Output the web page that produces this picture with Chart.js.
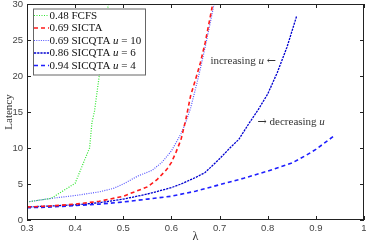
<!DOCTYPE html>
<html>
<head>
<meta charset="utf-8">
<script src="https://cdn.jsdelivr.net/npm/chart.js@4/dist/chart.umd.min.js"></script>
<style>
  html, body { margin: 0; padding: 0; background: #fff; }
  #wrap { width: 366px; height: 244px; }
</style>
</head>
<body>
<div id="wrap"><canvas id="latencyChart"></canvas></div>
<script>
// axis ticks
const xTicks = [0.3, 0.4, 0.5, 0.6, 0.7, 0.8, 0.9, 1];
const yTicks = [0, 5, 10, 15, 20, 25, 30];

const seriesLabels = ['0.48 FCFS', '0.69 SICTA', '0.69 SICQTA u = 10', '0.86 SICQTA u = 6', '0.94 SICQTA u = 4'];

// FCFS
const fcfsLambda = [0.30, 0.35, 0.40, 0.42, 0.43, 0.435, 0.44, 0.45, 0.46, 0.47, 0.48];
const fcfsLatency = [2.5, 3.0, 5.1, 8.4, 10.0, 13.6, 15.0, 20.0, 25.3, 30.6, 36.0];

// SICTA
const sictaLambda = [0.30, 0.35, 0.40, 0.45, 0.50, 0.55, 0.57, 0.59, 0.60, 0.61, 0.62, 0.63, 0.64, 0.65, 0.66, 0.67, 0.68, 0.69];
const sictaLatency = [1.8, 1.95, 2.2, 2.6, 3.3, 4.6, 5.6, 7.0, 8.0, 9.5, 11.2, 14.0, 17.3, 19.5, 21.8, 24.6, 28.0, 31.5];

// SICQTA u = 10
const u10Lambda = [0.30, 0.35, 0.40, 0.45, 0.48, 0.50, 0.53, 0.56, 0.58, 0.60, 0.62, 0.63, 0.64, 0.65, 0.66, 0.67, 0.68, 0.69];
const u10Latency = [2.5, 3.0, 3.4, 3.9, 4.4, 5.0, 6.1, 6.9, 8.0, 9.6, 12.0, 13.6, 15.6, 18.2, 21.0, 24.0, 27.2, 30.5];

// SICQTA u = 6
const u6Lambda = [0.30, 0.35, 0.40, 0.45, 0.50, 0.55, 0.60, 0.62, 0.65, 0.67, 0.70, 0.72, 0.74, 0.76, 0.78, 0.80, 0.82, 0.84, 0.86];
const u6Latency = [1.8, 1.95, 2.1, 2.4, 2.9, 3.6, 4.5, 5.0, 5.9, 6.6, 8.5, 9.9, 11.2, 13.3, 15.3, 17.5, 20.5, 24.0, 28.3];

// SICQTA u = 4
const u4Lambda = [0.30, 0.35, 0.40, 0.45, 0.50, 0.55, 0.60, 0.65, 0.70, 0.75, 0.80, 0.85, 0.88, 0.90, 0.94];
const u4Latency = [1.7, 1.8, 2.0, 2.2, 2.5, 2.9, 3.3, 4.0, 4.9, 5.8, 6.8, 7.9, 9.0, 9.8, 11.8];

const pts = (xs, ys) => xs.map((x, i) => ({ x: x, y: ys[i] }));

const serif = '"Liberation Serif", "DejaVu Serif", serif';

// write text where a lone "u" is italic and arrows come from DejaVu
function mathText(ctx, text, x, y, size) {
  text.split(/(\bu\b|[\u2190\u2192])/).forEach(part => {
    if (!part) return;
    if (part === 'u') ctx.font = 'italic ' + size + 'px ' + serif;
    else if (part === '\u2190' || part === '\u2192') ctx.font = size + 'px "DejaVu Serif", serif';
    else ctx.font = size + 'px ' + serif;
    ctx.fillText(part, x, y);
    x += ctx.measureText(part).width;
  });
}

const framePlugin = {
  id: 'frame',
  afterDatasetsDraw(chart) {
    const { ctx, chartArea: a, scales } = chart;
    ctx.save();
    // box and inward ticks
    ctx.strokeStyle = '#222';
    ctx.lineWidth = 1;
    ctx.strokeRect(a.left + 0.5, a.top + 0.5, a.right - a.left - 1, a.bottom - a.top - 1);
    ctx.beginPath();
    xTicks.forEach(v => {
      const px = Math.round(scales.x.getPixelForValue(v)) + 0.5;
      ctx.moveTo(px, a.bottom); ctx.lineTo(px, a.bottom - 4);
      ctx.moveTo(px, a.top); ctx.lineTo(px, a.top + 4);
    });
    yTicks.forEach(v => {
      const py = Math.round(scales.y.getPixelForValue(v)) + 0.5;
      ctx.moveTo(a.left, py); ctx.lineTo(a.left + 4, py);
      ctx.moveTo(a.right, py); ctx.lineTo(a.right - 4, py);
    });
    ctx.stroke();

    // legend
    const bx = a.left + 6, by = a.top + 4.5, bw = 112, bh = 66;
    ctx.fillStyle = '#fff';
    ctx.fillRect(bx, by, bw, bh);
    ctx.strokeStyle = '#666';
    ctx.strokeRect(bx + 0.5, by + 0.5, bw, bh);
    chart.data.datasets.forEach((ds, i) => {
      const ry = by + 7 + i * 12.5;
      ctx.strokeStyle = ds.borderColor;
      ctx.lineWidth = ds.borderWidth;
      ctx.setLineDash(ds.borderDash);
      ctx.beginPath();
      ctx.moveTo(bx + 1, ry); ctx.lineTo(bx + 16, ry);
      ctx.stroke();
      ctx.setLineDash([]);
      ctx.fillStyle = '#111';
      ctx.textBaseline = 'middle';
      mathText(ctx, ds.label, bx + 16.5, ry + 0.5, 11);
    });

    // annotations
    ctx.fillStyle = '#333';
    ctx.textBaseline = 'middle';
    mathText(ctx, 'increasing u \u2190', scales.x.getPixelForValue(0.681), scales.y.getPixelForValue(22.1), 11);
    mathText(ctx, '\u2192 decreasing u', scales.x.getPixelForValue(0.779), scales.y.getPixelForValue(13.6), 11);
    ctx.restore();
  }
};

const tickFont = { family: '"Liberation Sans", Arial, sans-serif', size: 9.5 };

new Chart(document.getElementById('latencyChart'), {
  type: 'line',
  data: {
    datasets: [
      {
        label: seriesLabels[0],
        data: pts(fcfsLambda, fcfsLatency),
        borderColor: '#2fe62f',
        borderWidth: 1.2,
        borderDash: [1, 1.5]
      },
      {
        label: seriesLabels[1],
        data: pts(sictaLambda, sictaLatency),
        borderColor: '#ff1a1a',
        borderWidth: 1.6,
        borderDash: [4, 3]
      },
      {
        label: seriesLabels[2],
        data: pts(u10Lambda, u10Latency),
        borderColor: '#5555ff',
        borderWidth: 1.2,
        borderDash: [1, 1.3]
      },
      {
        label: seriesLabels[3],
        data: pts(u6Lambda, u6Latency),
        borderColor: '#0000d0',
        borderWidth: 1.3,
        borderDash: [2.2, 1]
      },
      {
        label: seriesLabels[4],
        data: pts(u4Lambda, u4Latency),
        borderColor: '#1f1fff',
        borderWidth: 1.6,
        borderDash: [4, 3]
      }
    ]
  },
  options: {
    responsive: true,
    maintainAspectRatio: false,
    animation: false,
    layout: { padding: { top: 4, right: 2, left: 0, bottom: 0 } },
    elements: {
      point: { radius: 0 },
      line: { tension: 0, fill: false }
    },
    plugins: {
      legend: { display: false },
      tooltip: { enabled: false }
    },
    scales: {
      x: {
        type: 'linear',
        min: 0.3,
        max: 1,
        afterBuildTicks: s => { s.ticks = xTicks.map(v => ({ value: v })); },
        afterFit: s => { s.height = 24; s.paddingLeft = 0; s.paddingRight = 0; },
        ticks: { font: tickFont, color: '#444', padding: 3, maxRotation: 0, autoSkip: false, callback: v => String(v) },
        grid: { display: false, drawTicks: false },
        border: { display: false },
        title: { display: true, text: '\u03bb', font: { family: serif, size: 12 }, color: '#333', padding: { top: 0, bottom: 0 } }
      },
      y: {
        type: 'linear',
        min: 0,
        max: 30,
        afterBuildTicks: s => { s.ticks = yTicks.map(v => ({ value: v })); },
        afterFit: s => { s.width = 27; s.paddingTop = 0; s.paddingBottom = 0; },
        ticks: { font: tickFont, color: '#444', padding: 4, autoSkip: false },
        grid: { display: false, drawTicks: false },
        border: { display: false },
        title: { display: true, text: 'Latency', font: { family: serif, size: 11 }, color: '#333', padding: { top: 3, bottom: 0 } }
      }
    }
  },
  plugins: [framePlugin]
});
</script>
</body>
</html>
